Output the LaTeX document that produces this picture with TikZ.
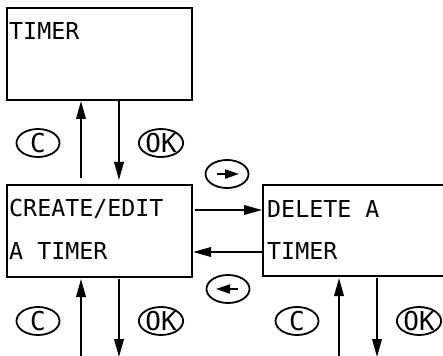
\documentclass[tikz,border=0pt]{standalone}
\usepackage{fontspec}
\setmonofont{DejaVu Sans Mono}
\usetikzlibrary{arrows.meta,shapes.geometric}
\begin{document}
\begin{tikzpicture}[x=1pt,y=-1pt,
  box/.style={draw,line width=2pt,rectangle,inner sep=0pt},
  lbl/.style={anchor=west,inner sep=0pt,font=\ttfamily\fontsize{23.3}{24}\selectfont},
  key/.style={draw,line width=1.8pt,ellipse,minimum width=43pt,minimum height=28pt,inner sep=0pt,font=\ttfamily\fontsize{26}{26}\selectfont},
  flow/.style={line width=1.9pt,-{Triangle[length=18pt,width=9.5pt]}},
  glyph/.style={line width=2pt,-{Triangle[length=14pt,width=9pt]}}]
\useasboundingbox (0,0) rectangle (443,355);
\fill[white] (0,0) rectangle (443,355);
% boxes
\node[box,minimum width=185pt,minimum height=92pt] (top) at (99.5,54) {};
\node[box,minimum width=185pt,minimum height=92pt] (left) at (99.5,231) {};
\draw[line width=2pt] (450,185) -- (263,185) -- (263,276) -- (450,276);
% texts
\node[lbl] (t1) at (9,31) {TIMER};
\node[lbl] (t2) at (9,209) {CREATE/EDIT};
\node[lbl] (t3) at (9,251) {A TIMER};
\node[lbl] (t4) at (267,209) {DELETE A};
\node[lbl] (t5) at (267,251) {TIMER};
% vertical arrows between top and left
\coordinate (a1s) at (81,178);
\coordinate (a1e) at (81,101);
\draw[flow] (a1s) -- (a1e);
\coordinate (a2s) at (119,101);
\coordinate (a2e) at (119,180);
\draw[flow] (a2s) -- (a2e);
\node[key] (c1) at (38,143) {C};
\node[key] (ok1) at (161,143) {OK};
% horizontal arrows
\coordinate (h1s) at (195,210);
\coordinate (h1e) at (262,210);
\draw[flow] (h1s) -- (h1e);
\coordinate (h2s) at (262,252);
\coordinate (h2e) at (193,252);
\draw[flow] (h2s) -- (h2e);
\node[key] (kr) at (227,174) {};
\draw[glyph] ([xshift=-10pt]kr.center) -- ([xshift=12pt]kr.center);
\node[key] (kl) at (228,289) {};
\draw[glyph] ([xshift=10pt]kl.center) -- ([xshift=-12pt]kl.center);
% bottom arrows
\coordinate (b1s) at (81,357);
\coordinate (b1e) at (81,279);
\draw[flow] (b1s) -- (b1e);
\coordinate (b2s) at (119,279);
\coordinate (b2e) at (119,357);
\draw[flow] (b2s) -- (b2e);
\node[key] (c2) at (38,321) {C};
\node[key] (ok2) at (161,321) {OK};
\coordinate (b3s) at (339,357);
\coordinate (b3e) at (339,278);
\draw[flow] (b3s) -- (b3e);
\coordinate (b4s) at (377,278);
\coordinate (b4e) at (377,357);
\draw[flow] (b4s) -- (b4e);
\node[key] (c3) at (297,321) {C};
\node[key] (ok3) at (419,321) {OK};
\end{tikzpicture}
\end{document}
